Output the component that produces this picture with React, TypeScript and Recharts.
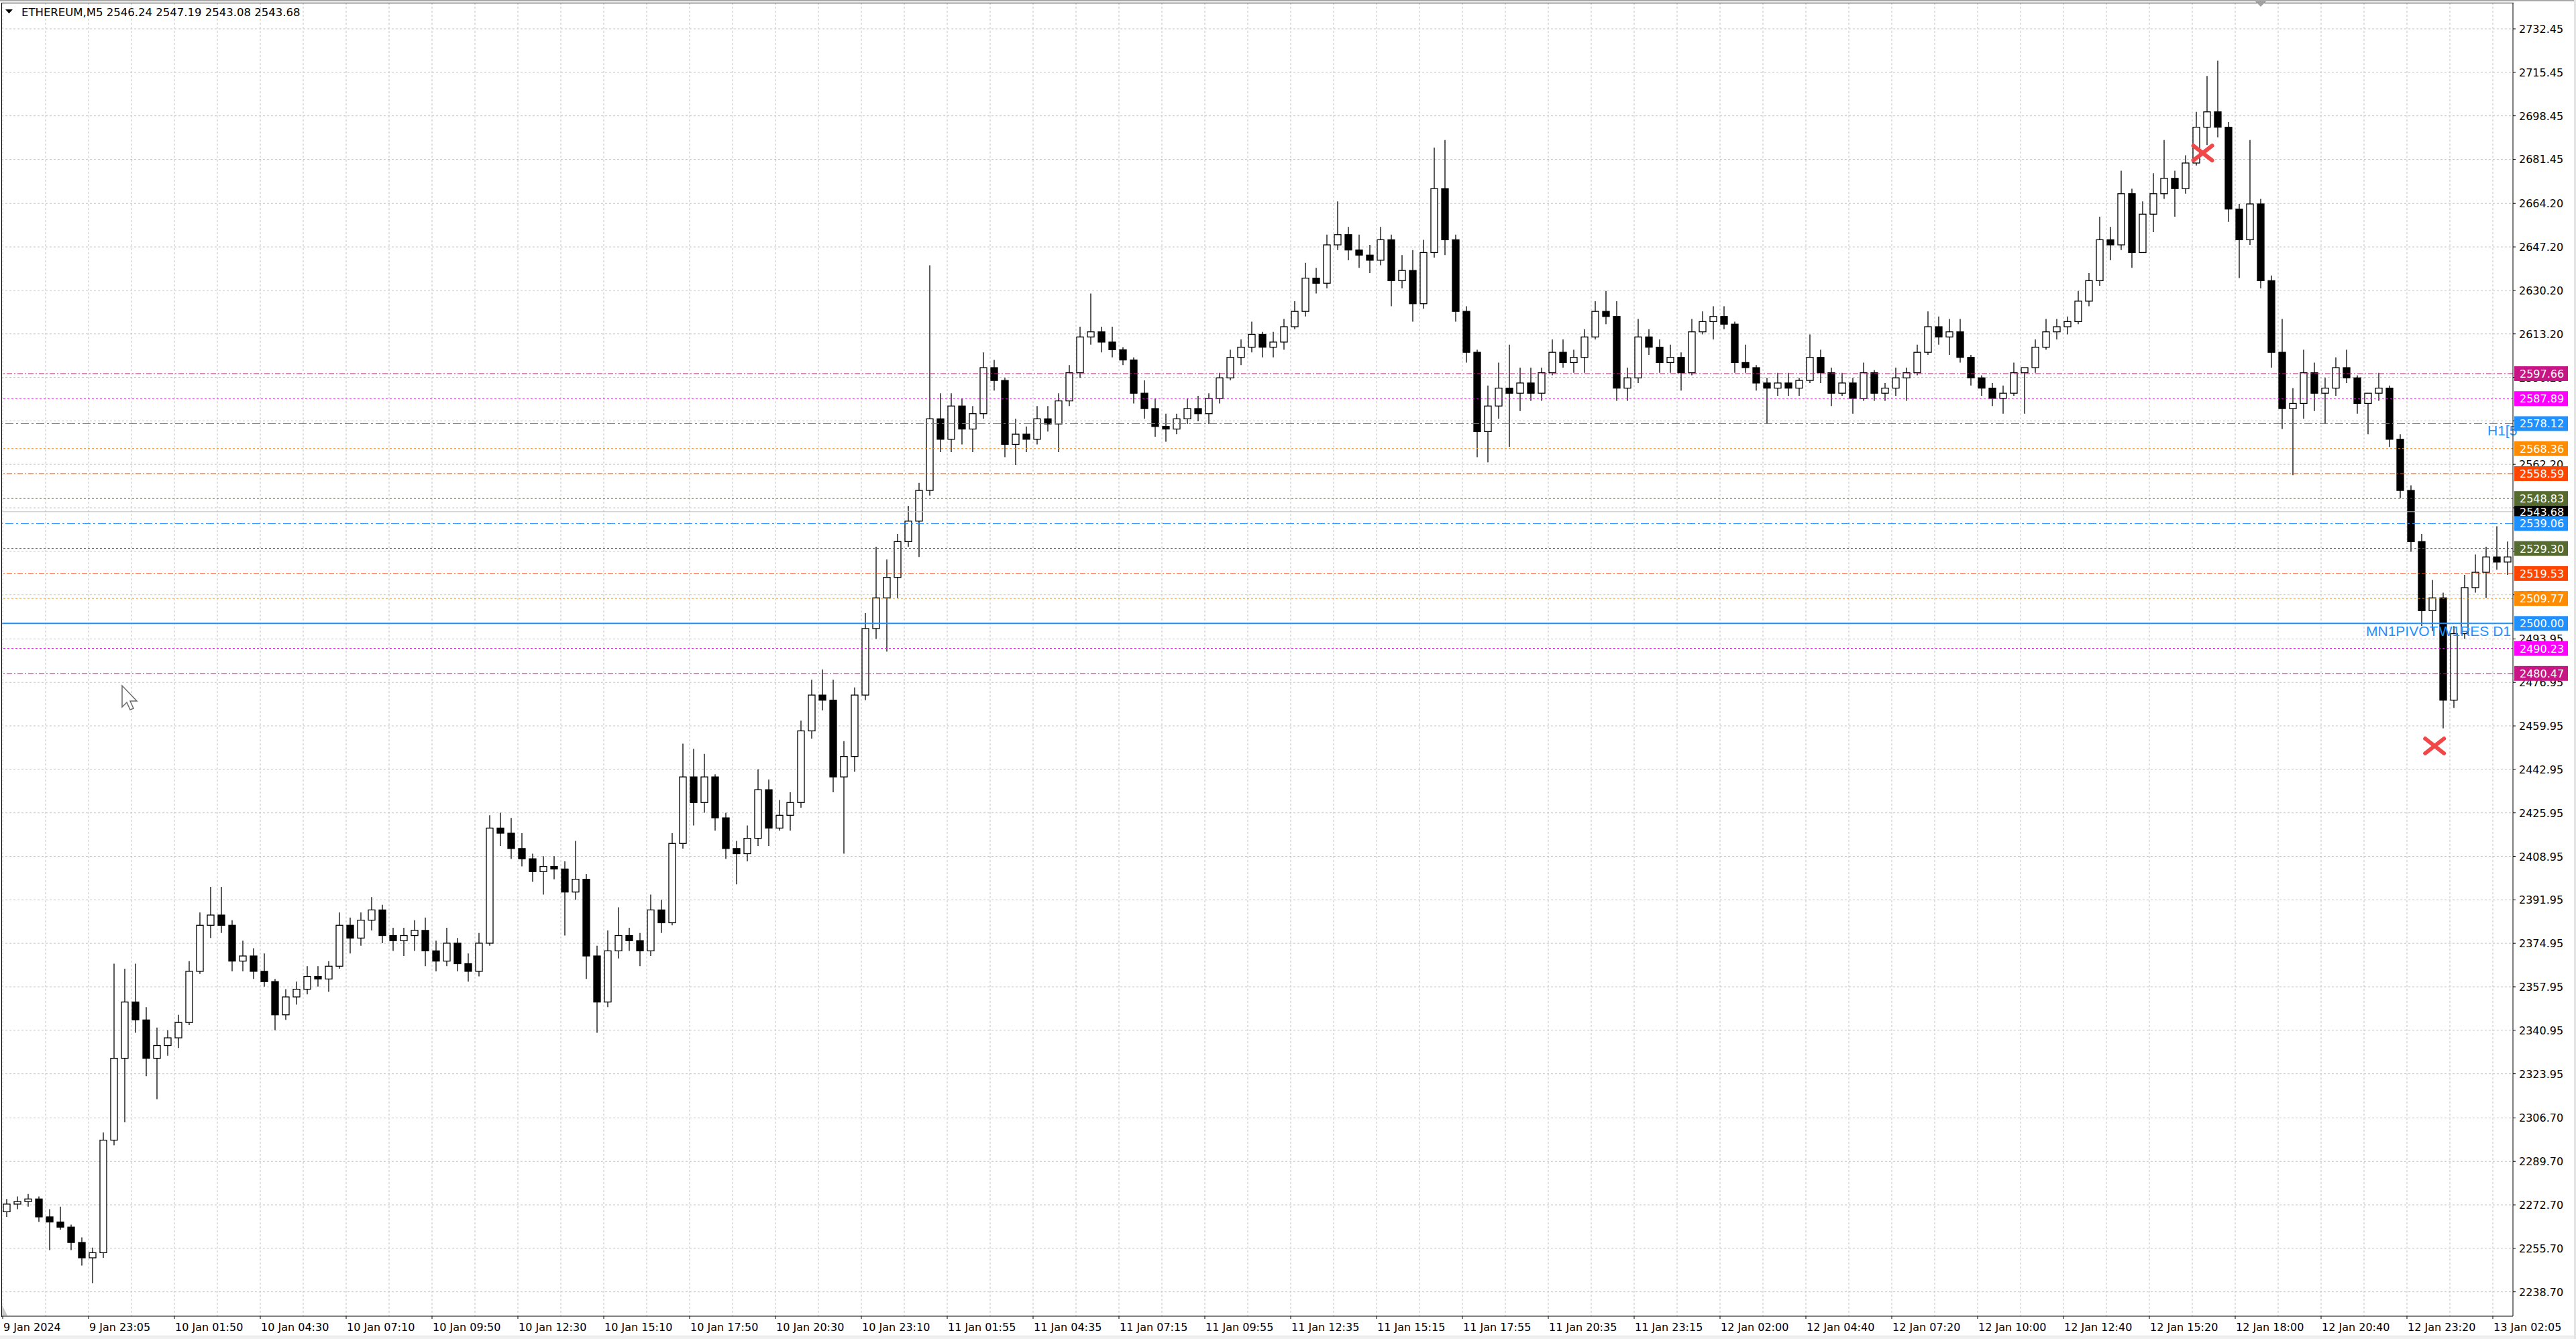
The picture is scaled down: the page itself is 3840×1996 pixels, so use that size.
import React from "react";
import {
  Bar,
  CartesianGrid,
  ComposedChart,
  ReferenceDot,
  ReferenceLine,
  XAxis,
  YAxis,
} from "recharts";

const jan9: number[][] = [
  [2270, 2275, 2268, 2273], [2273, 2276, 2271, 2274], [2274, 2277, 2272, 2275], [2275, 2276, 2266, 2268],
  [2268, 2271, 2255, 2266], [2266, 2272, 2263, 2264], [2264, 2265, 2255, 2258], [2258, 2260, 2249, 2252],
  [2252, 2256, 2242, 2254], [2254, 2301, 2252, 2298], [2298, 2367, 2296, 2330],
];
const jan10: number[][] = [
  [2330, 2365, 2305, 2352], [2352, 2367, 2340, 2345], [2345, 2350, 2323, 2330], [2330, 2342, 2314, 2335],
  [2335, 2341, 2331, 2338], [2338, 2347, 2334, 2344], [2344, 2368, 2343, 2364], [2364, 2387, 2363, 2382],
  [2382, 2397, 2377, 2386], [2386, 2397, 2379, 2382], [2382, 2384, 2364, 2368], [2368, 2376, 2364, 2370],
  [2370, 2373, 2361, 2364], [2364, 2371, 2358, 2360], [2360, 2361, 2341, 2347], [2347, 2357, 2345, 2354],
  [2354, 2360, 2351, 2357], [2357, 2366, 2355, 2362], [2362, 2366, 2358, 2361], [2361, 2368, 2356, 2366],
  [2366, 2387, 2365, 2382], [2382, 2385, 2371, 2377], [2377, 2387, 2374, 2384], [2384, 2393, 2380, 2388],
  [2388, 2390, 2375, 2378], [2378, 2381, 2372, 2376], [2376, 2381, 2370, 2378], [2378, 2384, 2372, 2380],
  [2380, 2385, 2366, 2372], [2372, 2376, 2364, 2368], [2368, 2381, 2366, 2375], [2375, 2377, 2364, 2367],
  [2367, 2371, 2360, 2364], [2364, 2379, 2362, 2375], [2375, 2425, 2374, 2420], [2420, 2426, 2413, 2418],
  [2418, 2424, 2408, 2412], [2412, 2418, 2405, 2408], [2408, 2410, 2399, 2403], [2403, 2409, 2394, 2405],
  [2405, 2409, 2400, 2404], [2404, 2407, 2378, 2395], [2395, 2415, 2392, 2400], [2400, 2402, 2361, 2370],
  [2370, 2374, 2340, 2352], [2352, 2380, 2350, 2372], [2372, 2389, 2369, 2378], [2378, 2381, 2372, 2376],
  [2376, 2379, 2366, 2372], [2372, 2394, 2370, 2388], [2388, 2392, 2379, 2383], [2383, 2418, 2382, 2414],
  [2414, 2453, 2412, 2440], [2440, 2451, 2421, 2430], [2430, 2449, 2426, 2440], [2440, 2441, 2419, 2424],
  [2424, 2426, 2408, 2412], [2412, 2415, 2398, 2410], [2410, 2421, 2407, 2416], [2416, 2443, 2413, 2435],
  [2435, 2439, 2413, 2420], [2420, 2431, 2419, 2425], [2425, 2434, 2419, 2430], [2430, 2462, 2428, 2458],
  [2458, 2478, 2455, 2472], [2472, 2482, 2466, 2470], [2470, 2478, 2434, 2440], [2440, 2454, 2410, 2448],
  [2448, 2475, 2442, 2472], [2472, 2504, 2470, 2498], [2498, 2530, 2494, 2510], [2510, 2525, 2489, 2518],
];
const jan11: number[][] = [
  [2518, 2535, 2510, 2532], [2532, 2546, 2530, 2540], [2540, 2555, 2526, 2552], [2552, 2640, 2550, 2580],
  [2580, 2590, 2567, 2572], [2572, 2590, 2567, 2585], [2585, 2588, 2570, 2576], [2576, 2585, 2567, 2582],
  [2582, 2606, 2580, 2600], [2600, 2603, 2591, 2595], [2595, 2596, 2565, 2570], [2570, 2580, 2562, 2574],
  [2574, 2577, 2567, 2572], [2572, 2585, 2570, 2580], [2580, 2585, 2575, 2578], [2578, 2590, 2567, 2587],
  [2587, 2601, 2585, 2598], [2598, 2616, 2596, 2612], [2612, 2629, 2609, 2614], [2614, 2616, 2606, 2610],
  [2610, 2616, 2604, 2607], [2607, 2608, 2601, 2603], [2603, 2604, 2586, 2590], [2590, 2595, 2580, 2584],
  [2584, 2588, 2573, 2577], [2577, 2582, 2571, 2576], [2576, 2582, 2574, 2580], [2580, 2588, 2578, 2584],
  [2584, 2589, 2579, 2582], [2582, 2590, 2578, 2588], [2588, 2598, 2586, 2596], [2596, 2607, 2595, 2604],
  [2604, 2611, 2601, 2608], [2608, 2618, 2606, 2613], [2613, 2614, 2604, 2608], [2608, 2614, 2604, 2610],
  [2610, 2619, 2607, 2616], [2616, 2626, 2615, 2622], [2622, 2641, 2620, 2635], [2635, 2639, 2629, 2633],
  [2633, 2652, 2631, 2648], [2648, 2665, 2646, 2652], [2652, 2655, 2642, 2646], [2646, 2652, 2639, 2644],
  [2644, 2648, 2637, 2642], [2642, 2655, 2640, 2650], [2650, 2652, 2624, 2634], [2634, 2644, 2631, 2638],
  [2638, 2646, 2618, 2625], [2625, 2650, 2623, 2645], [2645, 2686, 2643, 2670], [2670, 2689, 2644, 2650],
  [2650, 2652, 2618, 2622], [2622, 2624, 2602, 2606], [2606, 2607, 2565, 2575], [2575, 2593, 2563, 2585],
  [2585, 2602, 2580, 2592], [2592, 2609, 2569, 2590], [2590, 2600, 2583, 2594], [2594, 2600, 2587, 2590],
  [2590, 2600, 2587, 2598], [2598, 2611, 2597, 2606], [2606, 2611, 2600, 2602], [2602, 2607, 2598, 2604],
  [2604, 2615, 2598, 2612], [2612, 2626, 2611, 2622], [2622, 2630, 2617, 2620], [2620, 2626, 2587, 2592],
  [2592, 2600, 2587, 2596], [2596, 2619, 2594, 2612], [2612, 2615, 2605, 2608], [2608, 2611, 2598, 2602],
];
const jan12: number[][] = [
  [2602, 2609, 2598, 2604], [2604, 2606, 2591, 2598], [2598, 2619, 2597, 2614], [2614, 2622, 2613, 2618],
  [2618, 2624, 2611, 2620], [2620, 2624, 2615, 2617], [2617, 2618, 2598, 2602], [2602, 2609, 2598, 2600],
  [2600, 2601, 2591, 2594], [2594, 2596, 2578, 2592], [2592, 2598, 2589, 2594], [2594, 2598, 2589, 2592],
  [2592, 2596, 2589, 2595], [2595, 2613, 2594, 2604], [2604, 2607, 2594, 2598], [2598, 2600, 2585, 2590],
  [2590, 2598, 2589, 2594], [2594, 2596, 2582, 2588], [2588, 2602, 2587, 2598], [2598, 2599, 2587, 2590],
  [2590, 2594, 2587, 2592], [2592, 2600, 2589, 2596], [2596, 2600, 2587, 2598], [2598, 2609, 2597, 2606],
  [2606, 2622, 2605, 2616], [2616, 2620, 2609, 2612], [2612, 2619, 2605, 2614], [2614, 2619, 2602, 2604],
  [2604, 2605, 2593, 2596], [2596, 2597, 2589, 2592], [2592, 2594, 2585, 2588], [2588, 2593, 2582, 2590],
  [2590, 2602, 2589, 2598], [2598, 2600, 2582, 2600], [2600, 2611, 2598, 2608], [2608, 2619, 2607, 2614],
  [2614, 2619, 2611, 2616], [2616, 2620, 2613, 2618], [2618, 2630, 2617, 2626], [2626, 2637, 2624, 2634],
  [2634, 2659, 2632, 2650], [2650, 2655, 2642, 2648], [2648, 2677, 2646, 2668], [2668, 2670, 2639, 2645],
  [2645, 2665, 2645, 2660], [2660, 2676, 2653, 2668], [2668, 2689, 2666, 2674], [2674, 2677, 2659, 2670],
  [2670, 2683, 2668, 2680], [2680, 2700, 2679, 2694], [2694, 2714, 2687, 2700], [2700, 2720, 2690, 2694],
  [2694, 2696, 2657, 2662], [2662, 2664, 2635, 2650], [2650, 2689, 2648, 2664], [2664, 2666, 2631, 2634],
  [2634, 2636, 2600, 2606], [2606, 2619, 2576, 2584], [2584, 2592, 2558, 2586], [2586, 2607, 2580, 2598],
  [2598, 2602, 2583, 2590], [2590, 2596, 2578, 2592], [2592, 2604, 2589, 2600], [2600, 2607, 2594, 2596],
  [2596, 2597, 2582, 2586], [2586, 2590, 2574, 2590], [2590, 2598, 2587, 2592], [2592, 2593, 2569, 2572],
  [2572, 2574, 2549, 2552], [2552, 2554, 2528, 2532], [2532, 2535, 2499, 2505], [2505, 2517, 2497, 2510],
];
const jan13: number[][] = [
  [2510, 2512, 2459, 2470], [2470, 2499, 2467, 2496], [2496, 2519, 2494, 2514], [2514, 2527, 2512, 2520],
  [2520, 2530, 2510, 2526], [2526, 2538, 2521, 2524], [2524, 2532, 2519, 2526],
];

const timeLabels = [
  "9 Jan 2024", "9 Jan 23:05", "10 Jan 01:50", "10 Jan 04:30", "10 Jan 07:10", "10 Jan 09:50",
  "10 Jan 12:30", "10 Jan 15:10", "10 Jan 17:50", "10 Jan 20:30", "10 Jan 23:10", "11 Jan 01:55",
  "11 Jan 04:35", "11 Jan 07:15", "11 Jan 09:55", "11 Jan 12:35", "11 Jan 15:15", "11 Jan 17:55",
  "11 Jan 20:35", "11 Jan 23:15", "12 Jan 02:00", "12 Jan 04:40", "12 Jan 07:20", "12 Jan 10:00",
  "12 Jan 12:40", "12 Jan 15:20", "12 Jan 18:00", "12 Jan 20:40", "12 Jan 23:20", "13 Jan 02:05",
];

const priceTicks = [
  2732.45, 2715.45, 2698.45, 2681.45, 2664.2, 2647.2, 2630.2, 2613.2, 2596.2, 2579.2,
  2562.2, 2545.2, 2528.2, 2511.2, 2493.95, 2476.95, 2459.95, 2442.95, 2425.95, 2408.95,
  2391.95, 2374.95, 2357.95, 2340.95, 2323.95, 2306.7, 2289.7, 2272.7, 2255.7, 2238.7,
];

const pivotLevels = [
  2597.66, 2587.89, 2578.12, 2568.36, 2558.59, 2548.83, 2539.06, 2529.3, 2519.53, 2509.77, 2500.0, 2490.23, 2480.47,
];
const pivotColors = [
  "#C71585", "#FF00FF", "#1E90FF", "#FF8C00", "#FF4500", "#556B2F", "#1E90FF",
  "#556B2F", "#FF4500", "#FF8C00", "#1E90FF", "#FF00FF", "#C71585",
];
const pivotDash = [
  "8 3 2 3", "3 3", "12 4 3 4", "3 3", "8 3 2 3", "3 3", "12 4 3 4",
  "3 3", "8 3 2 3", "3 3", "", "3 3", "8 3 2 3",
];

const header = "ETHEREUM,M5  2546.24 2547.19 2543.08 2543.68";
const bidPrice = 2543.68;
const marks = [
  { k: 204.6, price: 2683.9 },
  { k: 226.2, price: 2452.1 },
];

const FONT = "'DejaVu Sans', sans-serif";
const LABEL_FONT = "'Liberation Sans', Arial, sans-serif";

const candles = [...jan9, ...jan10, ...jan11, ...jan12, ...jan13];
const data = candles.map((c, k) => ({ k, o: c[0], h: c[1], l: c[2], c: c[3], range: [c[2], c[1]] }));

// one tick per 16 M5 bars; every other one carries a time label
const tickShift = 0.375;
const gridTicks = Array.from({ length: 59 }, (_, j) => 4 * j - tickShift);
// price scale ticks first, the price tags after them so the tags sit on top
const axisTicks = [...priceTicks, bidPrice, ...pivotLevels];

function Candle(props: any) {
  const { x, y, width, height, payload } = props;
  if (x == null || y == null || !payload) return <g />;
  const top = Math.min(y, y + height);
  const span = Math.abs(height);
  const { o, h, l, c } = payload;
  const toY = (p: number) => (h === l ? top : top + ((h - p) / (h - l)) * span);
  const cx = x + width / 2;
  const yo = toY(o);
  const yc = toY(c);
  const bodyTop = Math.min(yo, yc);
  const bodyH = Math.max(1, Math.abs(yc - yo));
  return (
    <g>
      <line x1={cx} x2={cx} y1={top} y2={top + span} stroke="#000" strokeWidth={1.3} />
      <rect x={x} y={bodyTop} width={width} height={bodyH} fill={c >= o ? "#fff" : "#000"} stroke="#000" strokeWidth={1.3} />
    </g>
  );
}

function PriceTick(props: any) {
  const { x, y, payload } = props;
  const v = Number(payload.value);
  const pi = pivotLevels.indexOf(v);
  if (pi >= 0 || v === bidPrice) {
    const bg = pi >= 0 ? pivotColors[pi] : "#000";
    return (
      <g>
        <rect x={x + 2} y={y - 11} width={80} height={22} fill={bg} />
        <text x={x + 10} y={y} dy={6} fontSize={16} fontFamily={FONT} fill="#fff">
          {v.toFixed(2)}
        </text>
      </g>
    );
  }
  return (
    <g>
      <line x1={x} x2={x + 4} y1={y} y2={y} stroke="#000" />
      <text x={x + 9} y={y} dy={6} fontSize={16} fontFamily={FONT} fill="#000">
        {v.toFixed(2)}
      </text>
    </g>
  );
}

function TimeTick(props: any) {
  const { x, y, payload } = props;
  const j = Math.round((payload.value + tickShift) / 4);
  if (j % 2 !== 0) return <g />;
  return (
    <g>
      <line x1={x} x2={x} y1={y} y2={y + 4} stroke="#000" />
      <text x={x + 1} y={y + 22} fontSize={16} fontFamily={FONT} fill="#000">
        {timeLabels[j / 2]}
      </text>
    </g>
  );
}

function LineNote({ viewBox, note }: any) {
  if (!viewBox || !note) return <g />;
  const right = viewBox.x + viewBox.width;
  const yy = viewBox.y;
  if (note === "h1") {
    return (
      <text x={right - 38} y={yy + 18} fontSize={21} fontFamily={LABEL_FONT} fill="#1E90FF">
        H1[5
      </text>
    );
  }
  return (
    <g fontSize={21} fontFamily={LABEL_FONT} fill="#1E90FF">
      <text x={right - 219} y={yy + 19}>MN1PIVOT</text>
      <text x={right - 3} y={yy + 19} textAnchor="end">W1RES D1</text>
    </g>
  );
}

function CrossMark(props: any) {
  const { cx, cy } = props;
  if (cx == null || cy == null) return <g />;
  return (
    <g stroke="#F04848" strokeWidth={6} strokeLinecap="round">
      <line x1={cx - 14} y1={cy - 11} x2={cx + 14} y2={cy + 11} />
      <line x1={cx - 14} y1={cy + 11} x2={cx + 14} y2={cy - 11} />
    </g>
  );
}

export default function App() {
  return (
    <div style={{ position: "absolute", left: 0, top: 0, width: 3840, height: 1996, background: "#fff", overflow: "hidden" }}>
      <ComposedChart width={3840} height={1996} data={data} margin={{ top: 4, right: 0, bottom: 0, left: 2 }}>
        <CartesianGrid stroke="#c4c4c4" strokeDasharray="3 3" horizontalValues={priceTicks} verticalValues={gridTicks} />
        <XAxis
          dataKey="k"
          type="number"
          domain={[-0.5, 233.5]}
          ticks={gridTicks}
          interval={0}
          allowDataOverflow
          height={34}
          tickSize={0}
          tickMargin={0}
          tickLine={false}
          axisLine={{ stroke: "#000" }}
          tick={<TimeTick />}
        />
        <YAxis
          orientation="right"
          type="number"
          domain={[2229.18, 2742.68]}
          ticks={axisTicks}
          interval={0}
          allowDataOverflow
          width={94}
          tickSize={0}
          tickMargin={0}
          tickLine={false}
          axisLine={{ stroke: "#000" }}
          tick={<PriceTick />}
        />
        <ReferenceLine y={bidPrice} stroke="#c0c0c0" />
        {pivotLevels.map((v, i) => (
          <ReferenceLine
            key={v}
            y={v}
            stroke={pivotColors[i]}
            strokeDasharray={pivotDash[i] || undefined}
            strokeWidth={pivotDash[i] ? 1 : 2}
            label={
              i === 2 || i === 10
                ? (p: any) => <LineNote viewBox={p.viewBox} note={i === 2 ? "h1" : "mn1"} />
                : undefined
            }
          />
        ))}
        <Bar dataKey="range" barSize={10} shape={<Candle />} isAnimationActive={false} />
        {marks.map((m) => (
          <ReferenceDot key={m.k} x={m.k} y={m.price} r={14} shape={<CrossMark />} />
        ))}
      </ComposedChart>
      {/* chart frame, header and window chrome */}
      <div style={{ position: "absolute", left: 2, top: 4, width: 3745, height: 1959, borderLeft: "1px solid #000", borderTop: "1px solid #000", boxSizing: "border-box", pointerEvents: "none" }} />
      <div style={{ position: "absolute", left: 0, top: 0, width: 3840, height: 2, background: "#a8a8a8" }} />
      <div style={{ position: "absolute", left: 0, top: 1991, width: 3840, height: 5, background: "#f0f0f0", borderTop: "1px solid #dcdcdc" }} />
      <div style={{ position: "absolute", left: 3837, top: 0, width: 3, height: 1996, background: "#e4e4e4" }} />
      <svg style={{ position: "absolute", left: 0, top: 0 }} width={3840} height={1996} pointerEvents="none">
        <polygon points="8,14 19,14 13.5,20" fill="#000" />
        <text x={32} y={24} fontSize={16.5} fontFamily={FONT} fill="#000">
          {header}
        </text>
        <polygon points="3362,2 3378,2 3370,10" fill="#a0a0a0" />
        <polygon points="3,1945 3,1961 11,1961" fill="#c8c8c8" />
        <polygon
          points="182,1022 182,1054 189,1047 194,1058 199,1056 194,1045 204,1045"
          fill="#fff"
          stroke="#6a6a6a"
          strokeWidth={1.5}
        />
      </svg>
    </div>
  );
}
